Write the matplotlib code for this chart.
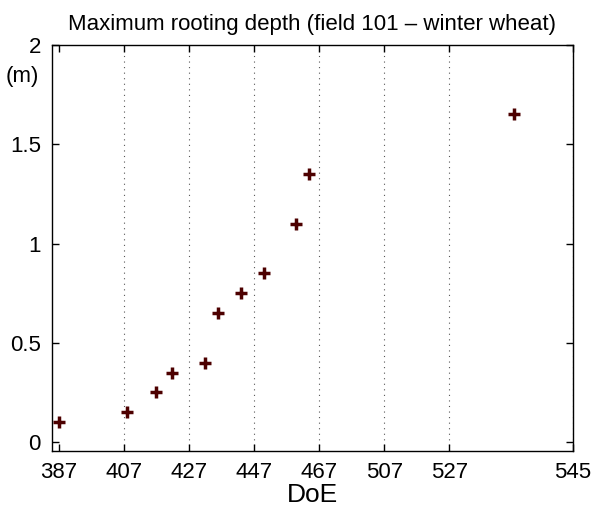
import matplotlib
matplotlib.use('Agg')
import matplotlib.pyplot as plt

# day of experiment and measured maximum rooting depth (m)
doe = [387, 408, 417, 422, 432, 436, 443, 450, 460, 464, 527]
depth = [0.10, 0.15, 0.25, 0.35, 0.40, 0.65, 0.75, 0.85, 1.10, 1.35, 1.65]

tick_pos = [387, 407, 427, 447, 467, 487, 507, 545]
tick_lab = ['387', '407', '427', '447', '467', '507', '527', '545']
ytick_pos = [0, 0.5, 1, 1.5, 2]
ytick_lab = ['0', '0.5', '1', '1.5', '2']

plt.rcParams['font.family'] = ['Liberation Sans', 'DejaVu Sans']

fig = plt.figure(figsize=(5.95, 5.09), dpi=100)
ax = fig.add_axes([0.0874, 0.114, 0.8756, 0.7976])

ax.plot(doe, depth, '+', color='#4d0000', markersize=8, mew=2.5, zorder=3)

ax.set_xlim(385, 545)
ax.set_ylim(-0.045, 2)
ax.set_xticks(tick_pos)
ax.set_xticklabels(tick_lab)
ax.set_yticks(ytick_pos)
ax.set_yticklabels(ytick_lab)

ax.tick_params(direction='in', length=5, width=1, top=True, right=True,
               labelsize=16, pad=8)
for s in ax.spines.values():
    s.set_linewidth(1)

ax.xaxis.grid(True, linestyle=(0, (1, 4)), color='#555555', linewidth=0.8)
ax.xaxis.get_gridlines()[0].set_visible(False)
ax.set_axisbelow(True)

ax.set_xlabel('DoE', fontsize=19, labelpad=0)
ax.set_title('Maximum rooting depth (field 101 \u2013 winter wheat)', fontsize=16, pad=11)
fig.text(0.038, 0.850, '(m)', fontsize=16, ha='center', va='center')

fig.savefig('out.png', dpi=100)
